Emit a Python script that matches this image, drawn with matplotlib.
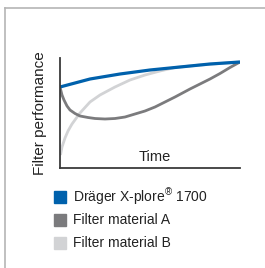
import matplotlib
matplotlib.use("Agg")
import matplotlib.pyplot as plt
from matplotlib.lines import Line2D
from matplotlib.patches import Rectangle

plt.rcParams['font.family'] = ['Liberation Sans', 'DejaVu Sans']
plt.rcParams['mathtext.fontset'] = 'custom'
plt.rcParams['mathtext.rm'] = 'Liberation Sans'
plt.rcParams['mathtext.it'] = 'Liberation Sans'

# values (time 0..180, performance 0..110)
t_xplore = [0, 15, 30, 45, 60, 90, 120, 150, 180]
y_xplore = [81, 85, 89, 91.5, 94, 98, 101, 104, 106]

t_mat_a = [0, 1, 2, 4, 7, 10, 15, 20, 28, 35, 45, 55, 65, 75, 85, 95,
           105, 115, 130, 140, 150, 160, 170, 180]
y_mat_a = [81, 77, 73, 68, 62, 58, 54.5, 52, 50.5, 49.5, 49, 49.5, 51, 54, 57, 61,
           66, 71, 79, 84, 89, 94.5, 100.5, 106]

t_mat_b = [0.5, 2, 5, 8, 12, 20, 30, 40, 55, 70, 85, 100, 115, 140, 180]
y_mat_b = [13, 21, 30, 37, 44, 55, 66, 73, 81, 88, 93, 97, 100.5, 103, 106]

labels = ["Dräger X-plore$^{®}$ 1700", "Filter material A", "Filter material B"]
colors = ["#0061ac", "#7b7b7d", "#d2d3d5"]

W, H = 265, 268
fig = plt.figure(figsize=(W / 100, H / 100), dpi=100)
fig.patch.set_facecolor("white")

# outer frame (top and left only)
fig.add_artist(Line2D([5 / W, 1], [1 - 8 / H, 1 - 8 / H], color="#b5b5b5", lw=1.2))
fig.add_artist(Line2D([5 / W, 5 / W], [0, 1 - 8 / H], color="#b5b5b5", lw=1.2))

ax = fig.add_axes([60 / W, 1 - 168 / H, 180 / W, 110 / H])
ax.plot(t_mat_b, y_mat_b, color=colors[2], lw=2.0, solid_capstyle="butt")
ax.plot(t_mat_a, y_mat_a, color=colors[1], lw=2.0, solid_capstyle="butt")
ax.plot(t_xplore, y_xplore, color=colors[0], lw=2.3, solid_capstyle="butt")
ax.set_xlim(0, 180)
ax.set_ylim(0, 110)
ax.set_xticks([])
ax.set_yticks([])
for s in ["top", "right"]:
    ax.spines[s].set_visible(False)
for s in ["left", "bottom"]:
    ax.spines[s].set_color("#3a3a3a")
    ax.spines[s].set_linewidth(1.3)

ax.text(95, 11, "Time", fontsize=10.5, ha="center", va="center", color="#222222")
fig.text(40 / W, 1 - 113 / H, "Filter performance", rotation=90, fontsize=11,
         ha="center", va="center", color="#222222")

# legend
rows = [197, 220, 243]
for lab, col, yy in zip(labels, colors, rows):
    fig.add_artist(Rectangle((54 / W, 1 - (yy + 6) / H), 12 / W, 12 / H,
                             color=col, transform=fig.transFigure))
    fig.text(73 / W, 1 - yy / H, lab, fontsize=10, ha="left", va="center",
             color="#222222")

fig.savefig("out.png", dpi=100)
